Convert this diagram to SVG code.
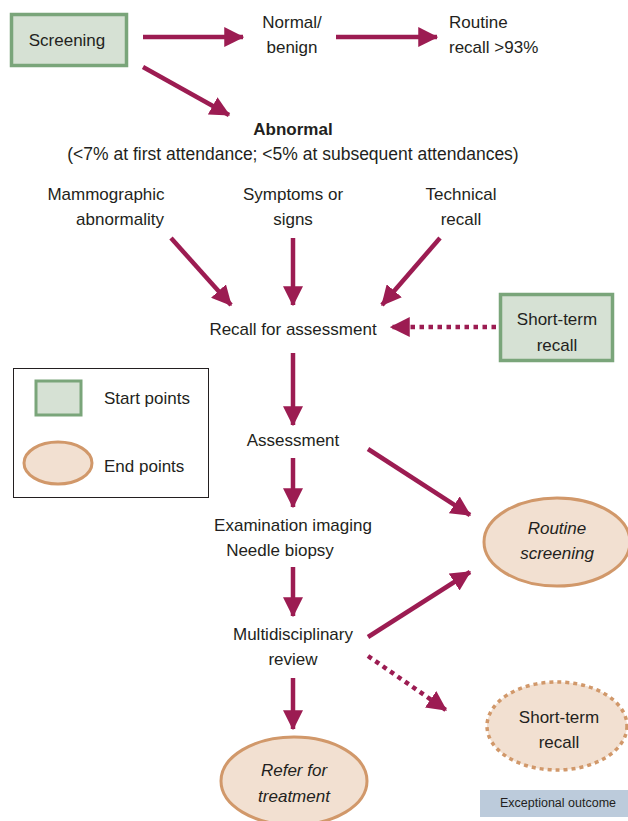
<svg xmlns="http://www.w3.org/2000/svg" width="628" height="821" viewBox="0 0 628 821">
<style>
text{font-family:"Liberation Sans",Arial,sans-serif;font-size:17px;fill:#231f20;}
.c{text-anchor:middle;}
.it{font-style:italic;}
.b{font-weight:bold;}
.wide{font-size:17.5px;}
.small{font-size:12.5px;}
.start{fill:#d6e1d4;stroke:#7aa57a;stroke-width:3.5;}
.end{fill:#f2e0d1;stroke:#d1986a;stroke-width:3;}
.endd{fill:#f2e0d1;stroke:#d1986a;stroke-width:3.5;stroke-dasharray:4 4;}
.a{stroke:#9c1c52;stroke-width:4.5;fill:none;marker-end:url(#ah);}
.d{stroke:#9c1c52;stroke-width:4.5;fill:none;stroke-dasharray:4.5 4.5;marker-end:url(#ah);}
</style>
<defs>
<marker id="ah" markerUnits="userSpaceOnUse" markerWidth="20" markerHeight="20" viewBox="0 0 16 16" refX="15" refY="8" orient="auto">
<path d="M0,0 L16,8 L0,16 Z" fill="#9c1c52"/>
</marker>
</defs>
<rect width="628" height="821" fill="#fff"/>
<g id="connectors">
<line class="a" x1="143" y1="37" x2="243" y2="37"/>
<line class="a" x1="143" y1="67" x2="229" y2="115"/>
<line class="a" x1="336" y1="37" x2="437" y2="37"/>
<line class="a" x1="171" y1="238" x2="231" y2="305"/>
<line class="a" x1="293" y1="238" x2="293" y2="305"/>
<line class="a" x1="440" y1="238" x2="382" y2="305"/>
<line class="d" x1="496" y1="327" x2="391" y2="327"/>
<line class="a" x1="293" y1="353" x2="293" y2="425"/>
<line class="a" x1="293" y1="458" x2="293" y2="507"/>
<line class="a" x1="368" y1="449" x2="470" y2="515"/>
<line class="a" x1="293" y1="567" x2="293" y2="616"/>
<line class="a" x1="368" y1="637" x2="470" y2="572"/>
<line class="d" x1="368" y1="656" x2="446" y2="710"/>
<line class="a" x1="293" y1="678" x2="293" y2="729"/>
</g>
<g id="screening">
<rect class="start" x="11.5" y="14.5" width="115" height="51"/>
<text class="c" x="67" y="46">Screening</text>
</g>
<g id="normal">
<text class="c" x="292" y="28">Normal/</text>
<text class="c" x="292" y="53">benign</text>
</g>
<g id="routine-recall">
<text x="449" y="28">Routine</text>
<text x="449" y="53">recall &gt;93%</text>
</g>
<g id="abnormal">
<text class="c b" x="293" y="135">Abnormal</text>
<text class="c wide" x="293" y="160">(&lt;7% at first attendance; &lt;5% at subsequent attendances)</text>
</g>
<g id="mammographic">
<text class="c" x="106" y="200">Mammographic</text>
<text class="c" x="120" y="225">abnormality</text>
</g>
<g id="symptoms">
<text class="c" x="293" y="200">Symptoms or</text>
<text class="c" x="293" y="225">signs</text>
</g>
<g id="technical">
<text class="c" x="461" y="200">Technical</text>
<text class="c" x="461" y="225">recall</text>
</g>
<g id="recall-assessment">
<text class="c" x="293" y="335">Recall for assessment</text>
</g>
<g id="short-term-start">
<rect class="start" x="500.5" y="294.5" width="112" height="66"/>
<text class="c" x="557" y="325">Short-term</text>
<text class="c" x="557" y="351">recall</text>
</g>
<g id="assessment">
<text class="c" x="293" y="446">Assessment</text>
</g>
<g id="examination">
<text class="c" x="293" y="531">Examination imaging</text>
<text class="c" x="280" y="556">Needle biopsy</text>
</g>
<g id="multidisciplinary">
<text class="c" x="293" y="640">Multidisciplinary</text>
<text class="c" x="293" y="665">review</text>
</g>
<g id="routine-screening">
<ellipse class="end" cx="557" cy="542" rx="73" ry="44"/>
<text class="c it" x="557" y="534">Routine</text>
<text class="c it" x="557" y="559">screening</text>
</g>
<g id="short-term-end">
<ellipse class="endd" cx="557" cy="726" rx="70" ry="44"/>
<text class="c" x="559" y="723">Short-term</text>
<text class="c" x="559" y="748">recall</text>
</g>
<g id="refer">
<ellipse class="end" cx="294" cy="781" rx="73" ry="44"/>
<text class="c it" x="294" y="776">Refer for</text>
<text class="c it" x="294" y="802">treatment</text>
</g>
<g id="legend">
<rect x="13.5" y="368.5" width="195" height="129" fill="none" stroke="#231f20" stroke-width="1"/>
<rect class="start" x="36" y="381" width="45" height="34" style="stroke-width:3"/>
<text x="104" y="404">Start points</text>
<ellipse class="end" cx="58" cy="463" rx="34" ry="21"/>
<text x="104" y="472">End points</text>
</g>
<g id="exceptional">
<rect x="480" y="790" width="148" height="27" fill="#bccbdb"/>
<text class="c small" x="558" y="807">Exceptional outcome</text>
</g>
</svg>
